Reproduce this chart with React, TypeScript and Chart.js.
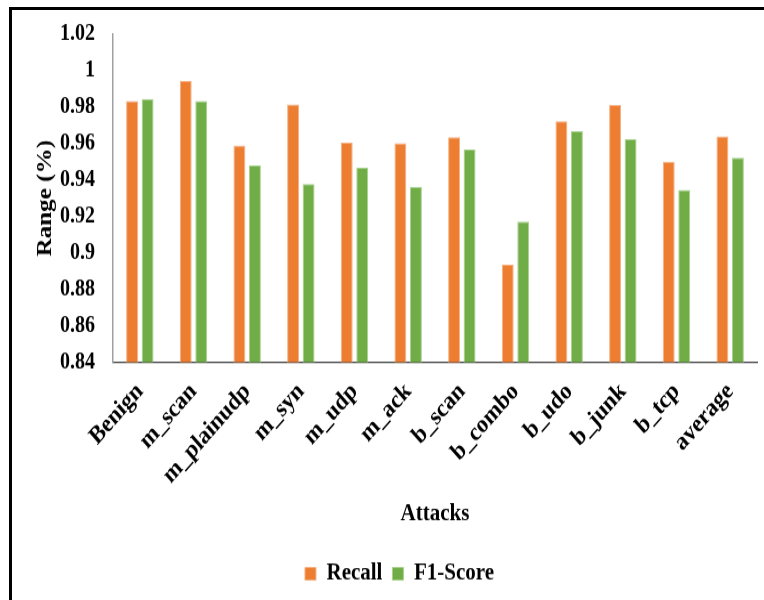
import React, { useEffect, useRef } from "react";
import { Chart, registerables } from "chart.js";

Chart.register(...registerables);

const categories = [
  "Benign", "m_scan", "m_plainudp", "m_syn", "m_udp", "m_ack",
  "b_scan", "b_combo", "b_udo", "b_junk", "b_tcp", "average",
];
const recall = [0.9833, 0.9943, 0.9589, 0.9815, 0.9605, 0.9602, 0.9635, 0.8936, 0.9722, 0.9812, 0.9501, 0.964];
const f1Score = [0.9844, 0.9833, 0.948, 0.9379, 0.9467, 0.9363, 0.9567, 0.9171, 0.9668, 0.9624, 0.9345, 0.9523];
const yMin = 0.84;
const yMax = 1.02;
const yStep = 0.02;

const FONT = "'Liberation Serif', 'Times New Roman', serif";
const CANVAS_H = 526;

export default function App() {
  const ref = useRef<HTMLCanvasElement | null>(null);

  useEffect(() => {
    if (!ref.current) return;
    const chart = new Chart(ref.current, {
      type: "bar",
      data: {
        labels: categories,
        datasets: [
          {
            label: "Recall",
            data: recall,
            backgroundColor: "#ED7D31",
            borderColor: "#F4B183",
            borderWidth: 1,
            categoryPercentage: 0.578,
            barPercentage: 0.77,
          },
          {
            label: "F1-Score",
            data: f1Score,
            backgroundColor: "#70AD47",
            borderColor: "#A9D18E",
            borderWidth: 1,
            categoryPercentage: 0.578,
            barPercentage: 0.77,
          },
        ],
      },
      options: {
        responsive: false,
        animation: false,
        devicePixelRatio: 1,
        layout: { padding: { left: 42, right: 7, top: 29, bottom: 2.5 } },
        plugins: {
          tooltip: { enabled: false },
          legend: {
            position: "bottom",
            labels: {
              boxWidth: 11,
              boxHeight: 11,
              padding: 10,
              color: "#000",
              font: { family: FONT, size: 21, weight: "bold" },
            },
          },
        },
        scales: {
          x: {
            grid: { display: false, drawTicks: false },
            border: { display: true, color: "#404040", width: 1.3 },
            ticks: {
              color: "#000",
              minRotation: 45,
              maxRotation: 45,
              padding: 13,
              autoSkip: false,
              font: { family: FONT, size: 22, weight: "bold" },
            },
            title: {
              display: true,
              text: "Attacks",
              color: "#000",
              font: { family: FONT, size: 21, weight: "bold" },
              padding: { top: 0, bottom: 19.6 },
            },
            afterFit: (scale: any) => {
              scale.height = 165;
            },
          },
          y: {
            min: yMin,
            max: yMax,
            grid: { display: false, drawTicks: false },
            border: { display: true, color: "#a0a0a0", width: 1.5 },
            ticks: {
              stepSize: yStep,
              color: "#000",
              padding: 18,
              font: { family: FONT, size: 20, weight: "bold" },
              callback: (v: any) => String(Number(Number(v).toFixed(2))),
            },
            title: {
              display: true,
              text: "Range (%)",
              color: "#000",
              font: { family: FONT, size: 22, weight: "bold" },
              padding: { top: -10, bottom: 0 },
            },
            afterFit: (scale: any) => {
              scale.width = 71;
            },
          },
        },
      },
    });
    return () => chart.destroy();
  }, []);

  return (
    <div
      style={{
        position: "fixed",
        left: 0,
        top: 0,
        width: 764,
        height: 600,
        overflow: "hidden",
        background: "#fff",
      }}
    >
      <canvas
        ref={ref}
        width={764}
        height={CANVAS_H}
        style={{ position: "absolute", left: 0, top: 0, width: 764, height: 600 }}
      />
      <div
        style={{
          position: "absolute",
          left: 9,
          top: 7,
          width: 900,
          height: 800,
          borderLeft: "3px solid #000",
          borderTop: "3px solid #000",
          pointerEvents: "none",
        }}
      />
    </div>
  );
}
